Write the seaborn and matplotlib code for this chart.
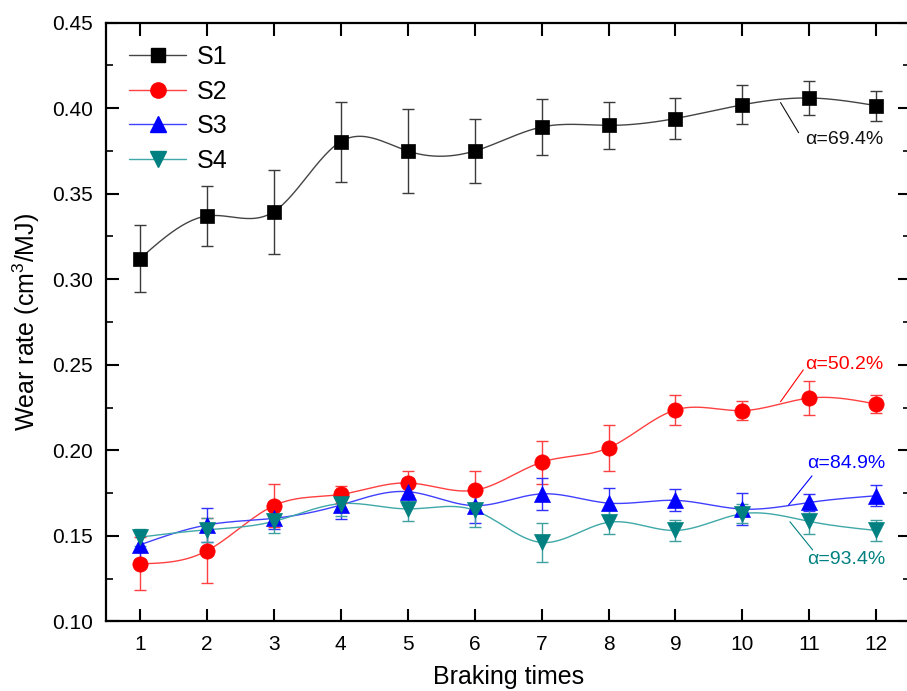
import numpy as np
import pandas as pd
import seaborn as sns
import matplotlib.pyplot as plt
from matplotlib.lines import Line2D
from matplotlib.ticker import MultipleLocator

# braking test data
braking = list(range(1, 13))
s1 = [0.312, 0.337, 0.3395, 0.3805, 0.375, 0.375, 0.389, 0.390, 0.394, 0.402, 0.406, 0.4015]
s1_err = [0.0195, 0.0173, 0.0245, 0.0234, 0.0246, 0.0187, 0.0166, 0.0138, 0.012, 0.0114, 0.0101, 0.0088]
s2 = [0.1336, 0.1412, 0.1676, 0.1742, 0.1809, 0.1766, 0.193, 0.2014, 0.2236, 0.2232, 0.2305, 0.227]
s2_err = [0.0155, 0.019, 0.0125, 0.005, 0.007, 0.011, 0.0125, 0.0135, 0.009, 0.0057, 0.0098, 0.0053]
s3 = [0.1447, 0.1563, 0.1602, 0.168, 0.1758, 0.1676, 0.1745, 0.1691, 0.1707, 0.1656, 0.1695, 0.1734]
s3_err = [0.008, 0.01, 0.006, 0.008, 0.008, 0.01, 0.0095, 0.009, 0.0065, 0.0094, 0.005, 0.006]
s4 = [0.1492, 0.1535, 0.1584, 0.1688, 0.1657, 0.1649, 0.1461, 0.1579, 0.1531, 0.1629, 0.1584, 0.1531]
s4_err = [0.005, 0.007, 0.007, 0.0075, 0.007, 0.01, 0.0115, 0.007, 0.0063, 0.0055, 0.0071, 0.0063]

series_names = ["S1", "S2", "S3", "S4"]
alpha_labels = ["\u03b1=69.4%", "\u03b1=50.2%", "\u03b1=84.9%", "\u03b1=93.4%"]


def smooth(x, y, n=300):
    # natural cubic spline, like Origin's spline connector
    x = np.asarray(x, float)
    y = np.asarray(y, float)
    h = np.diff(x)
    m = len(x)
    A = np.zeros((m, m))
    r = np.zeros(m)
    A[0, 0] = A[-1, -1] = 1
    for i in range(1, m - 1):
        A[i, i - 1] = h[i - 1]
        A[i, i] = 2 * (h[i - 1] + h[i])
        A[i, i + 1] = h[i]
        r[i] = 3 * ((y[i + 1] - y[i]) / h[i] - (y[i] - y[i - 1]) / h[i - 1])
    c = np.linalg.solve(A, r)
    b = (y[1:] - y[:-1]) / h - h * (2 * c[:-1] + c[1:]) / 3
    d = (c[1:] - c[:-1]) / (3 * h)
    xs = np.linspace(x[0], x[-1], n)
    idx = np.clip(np.searchsorted(x, xs) - 1, 0, m - 2)
    dx = xs - x[idx]
    return xs, y[idx] + b[idx] * dx + c[idx] * dx ** 2 + d[idx] * dx ** 3


sns.set_style("ticks")
plt.rcParams['font.family'] = ['Liberation Sans', 'DejaVu Sans']
plt.rcParams['mathtext.fontset'] = 'custom'
plt.rcParams['mathtext.rm'] = 'Liberation Sans'
plt.rcParams['mathtext.it'] = 'Liberation Sans'
for key in ["text.color", "axes.labelcolor", "xtick.color", "ytick.color"]:
    plt.rcParams[key] = "black"

fig = plt.figure(figsize=(9.07, 6.91), dpi=100)
ax = fig.add_axes([0.1174, 0.1009, 0.8856, 0.8662])

styles = [
    dict(marker="s", mc="black", lc="#444444", ec="#3a3a3a", ms=10.5),
    dict(marker="o", mc="red", lc="#ff4040", ec="#ff4040", ms=11),
    dict(marker="^", mc="blue", lc="#4040ff", ec="#3030ff", ms=11.5),
    dict(marker="v", mc="#008080", lc="#40a8a8", ec="#40a0a0", ms=11.5),
]

values = [s1, s2, s3, s4]
errors = [s1_err, s2_err, s3_err, s4_err]

handles = []
for name, vals, errs, st in zip(series_names, values, errors, styles):
    xs, ys = smooth(braking, vals)
    sns.lineplot(x=xs, y=ys, ax=ax, color=st["lc"], lw=1.0, zorder=2)
    ax.errorbar(braking, vals, yerr=errs, fmt="none", ecolor=st["ec"],
                elinewidth=1.0, capsize=4.0, capthick=1.0, zorder=3)
    df = pd.DataFrame({"x": braking, "y": vals})
    sns.scatterplot(data=df, x="x", y="y", ax=ax, marker=st["marker"],
                    color=st["mc"], s=st["ms"] ** 2, edgecolor=st["mc"],
                    linewidth=0.5, zorder=4)
    handles.append(Line2D([0], [0], color=st["lc"], lw=1.0, marker=st["marker"],
                          markersize=st["ms"], markerfacecolor=st["mc"],
                          markeredgecolor=st["mc"], label=name))

# alpha annotations with leader lines
ann_text_pos = [(10.94, 0.382), (10.94, 0.250), (10.97, 0.192), (10.97, 0.1364)]
ann_line = [((10.57, 0.4033), (10.84, 0.3857)),
            ((10.57, 0.2284), (10.91, 0.247)),
            ((10.69, 0.168), (11.04, 0.185)),
            ((10.71, 0.1582), (11.05, 0.1417))]
ann_colors = ["#111111", "red", "blue", "#008080"]
for lab, (tx, ty), (p0, p1), col in zip(alpha_labels, ann_text_pos, ann_line, ann_colors):
    ax.plot([p0[0], p1[0]], [p0[1], p1[1]], color=col, lw=0.8, zorder=2)
    ax.text(tx, ty, lab, color=col, fontsize=14, va="center", ha="left")

ax.set_xlim(0.5, 12.5)
ax.set_ylim(0.10, 0.45)
ax.set_xticks(braking)
ax.yaxis.set_major_locator(MultipleLocator(0.05))
ax.yaxis.set_minor_locator(MultipleLocator(0.025))
ax.yaxis.set_major_formatter(plt.FuncFormatter(lambda v, p: f"{v:.2f}"))
ax.tick_params(axis="both", which="major", direction="in", length=9, width=1.5,
               labelsize=15, top=True, right=True, pad=10)
ax.tick_params(axis="y", which="minor", direction="in", length=5, width=1.2, right=True)
for sp in ax.spines.values():
    sp.set_linewidth(1.6)
    sp.set_color("black")
ax.spines["right"].set_visible(False)

ax.set_xlabel("Braking times", fontsize=18, labelpad=8)
ax.set_ylabel("Wear rate (cm$^3$/MJ)", fontsize=18, labelpad=7)

ax.legend(handles=handles, loc="upper left", bbox_to_anchor=(0.0, 1.0),
          frameon=False, fontsize=18, handlelength=2.3, handletextpad=0.4,
          labelspacing=0.42, borderaxespad=0.5)

fig.savefig("out.png", dpi=100)
